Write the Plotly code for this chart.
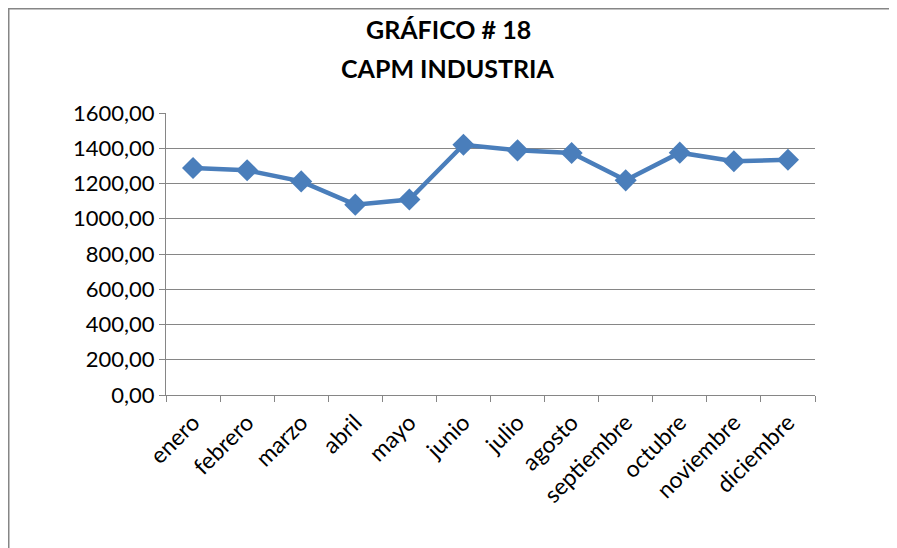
import plotly.graph_objects as go

months = ["enero", "febrero", "marzo", "abril", "mayo", "junio", "julio",
          "agosto", "septiembre", "octubre", "noviembre", "diciembre"]
values = [1288, 1275, 1212, 1080, 1109, 1420, 1388, 1373, 1218, 1375, 1326, 1335]
title_lines = ["GRÁFICO # 18", "CAPM INDUSTRIA"]

# page has an 8px body margin; work in screen coordinates and convert
O = 8
W, H = 897 - O, 548 - O
L, R, T, B = 166 - O, 897 - 815, 113 - O, 548 - 395
pw, ph = W - L - R, H - T - B

def px(x):
    return (x - O - L) / pw

def py(y):
    return (H - B - (y - O)) / ph

fig = go.Figure()
fig.add_trace(go.Scatter(
    x=months, y=values, mode="lines+markers",
    line=dict(color="#4A7EBB", width=4.5),
    marker=dict(symbol="diamond", size=17, color="#4A7EBB"),
))

font = "Lato, Calibri, 'Open Sans', sans-serif"
fig.update_layout(
    width=W, height=H,
    margin=dict(l=L, r=R, t=T, b=B, autoexpand=False),
    paper_bgcolor="white", plot_bgcolor="white",
    separators=", ",
    showlegend=False,
    font=dict(family=font, size=22, color="black"),
    xaxis=dict(
        type="category", showgrid=False, showline=True, linecolor="#868686", linewidth=1,
        ticks="outside", tickson="boundaries", ticklen=6, tickcolor="#868686",
        tickangle=-45, tickfont=dict(size=23, family=font), ticklabelstandoff=4,
        range=[-0.5, 11.5], automargin=False,
    ),
    yaxis=dict(
        range=[0, 1600], dtick=200, tickformat=".2f",
        showgrid=True, gridcolor="#868686", gridwidth=1,
        showline=True, linecolor="#868686", linewidth=1,
        ticks="outside", ticklen=6, tickcolor="#868686",
        tickfont=dict(size=22, family=font), zeroline=False, automargin=False,
    ),
    annotations=[
        dict(text="<b>%s</b>" % title_lines[0], x=px(448), y=py(29), xref="paper", yref="paper",
             showarrow=False, font=dict(size=25, family=font), xanchor="center", yanchor="middle"),
        dict(text="<b>%s</b>" % title_lines[1], x=px(448), y=py(68), xref="paper", yref="paper",
             showarrow=False, font=dict(size=25, family=font), xanchor="center", yanchor="middle"),
    ],
    shapes=[dict(type="rect", xref="paper", yref="paper",
                 x0=px(8.75), x1=px(893), y0=py(560), y1=py(8.75),
                 line=dict(color="#868686", width=1.5), fillcolor="rgba(0,0,0,0)", layer="below")],
)

fig.write_html("out.html")
